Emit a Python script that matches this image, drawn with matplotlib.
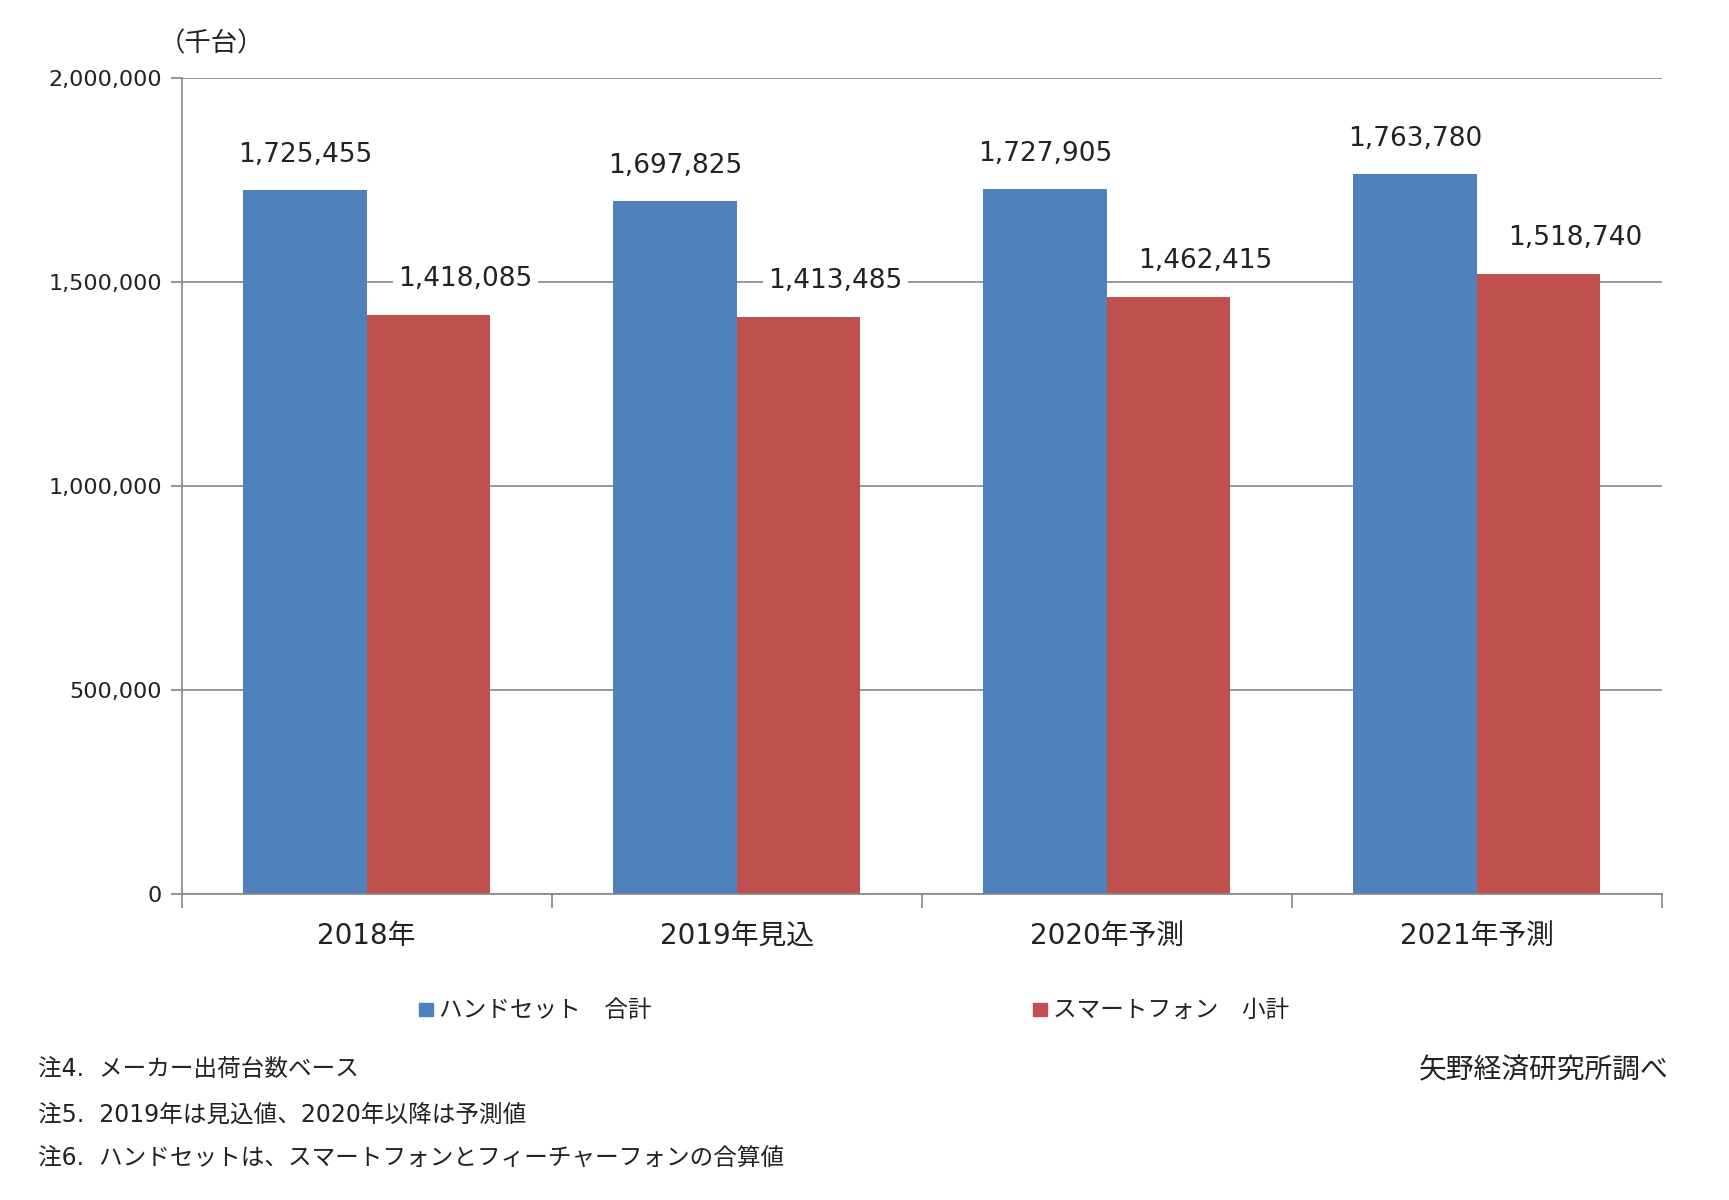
import matplotlib
matplotlib.use('Agg')
import matplotlib.pyplot as plt
import numpy as np

plt.rcParams['font.family'] = ['DejaVu Sans', 'Noto Sans CJK JP']

# データ
categories = ['2018年', '2019年見込', '2020年予測', '2021年予測']
handset = [1725455, 1697825, 1727905, 1763780]
smartphone = [1418085, 1413485, 1462415, 1518740]
series_names = ['ハンドセット　合計', 'スマートフォン　小計']
yticks = [0, 500000, 1000000, 1500000, 2000000]
notes = ['注4.  メーカー出荷台数ベース',
         '注5.  2019年は見込値、2020年以降は予測値',
         '注6.  ハンドセットは、スマートフォンとフィーチャーフォンの合算値']

blue = '#4F81BD'
red = '#C0504D'

fig = plt.figure(figsize=(17.29, 12), dpi=100)
ax = fig.add_axes([0.105, 0.255, 0.856, 0.68])

x = np.arange(len(categories))
w = 0.334
b1 = ax.bar(x - w / 2, handset, w, color=blue, zorder=2)
b2 = ax.bar(x + w / 2, smartphone, w, color=red, zorder=2)

# ラベル（白背景でグリッド線を隠すが、棒の下に置く）
for rect, v in zip(b1, handset):
    ax.text(rect.get_x() + rect.get_width() / 2, v + 87000, f'{v:,}', ha='center', va='center',
            fontsize=19, color='#222222', zorder=1.5,
            bbox=dict(facecolor='white', edgecolor='none', pad=4))
for rect, v in zip(b2, smartphone):
    ax.text(rect.get_x() + rect.get_width() / 2 + 0.1, v + 90000, f'{v:,}', ha='center', va='center',
            fontsize=19, color='#222222', zorder=1.5,
            bbox=dict(facecolor='white', edgecolor='none', pad=4))

ax.set_xlim(-0.5, 3.5)
ax.set_ylim(0, 2000000)
ax.set_yticks(yticks)
ax.set_yticklabels([f'{t:,}' for t in yticks], fontsize=16, color='#222222')
ax.yaxis.grid(True, color='#868686', linewidth=1.2, zorder=0)
ax.set_axisbelow(True)

ax.set_xticks(x)
ax.set_xticklabels(categories, fontsize=20, color='#222222')
ax.tick_params(axis='x', length=0, pad=20)
ax.set_xticks(np.arange(-0.5, 4, 1), minor=True)
ax.tick_params(axis='x', which='minor', length=10, color='#868686', width=1.2)
ax.tick_params(axis='y', length=8, color='#868686', width=1.2, pad=6)

for s in ['top', 'right']:
    ax.spines[s].set_visible(False)
for s in ['left', 'bottom']:
    ax.spines[s].set_color('#868686')
    ax.spines[s].set_linewidth(1.2)

# 単位
fig.text(0.092, 0.963, '（千台）', fontsize=19, ha='left', va='center', color='#222222')

# 凡例
fig.patches.append(plt.Rectangle((0.2425, 0.153), 0.008, 0.011, color=blue, transform=fig.transFigure))
fig.text(0.254, 0.158, series_names[0], fontsize=17, va='center', color='#222222')
fig.patches.append(plt.Rectangle((0.5975, 0.153), 0.008, 0.011, color=red, transform=fig.transFigure))
fig.text(0.609, 0.158, series_names[1], fontsize=17, va='center', color='#222222')

# 注記
for i, n in enumerate(notes):
    fig.text(0.022, 0.108 - i * 0.037, n, fontsize=17, va='center', color='#222222')
fig.text(0.965, 0.108, '矢野経済研究所調べ', fontsize=20, ha='right', va='center', color='#222222')

fig.savefig('out.png', dpi=100)
